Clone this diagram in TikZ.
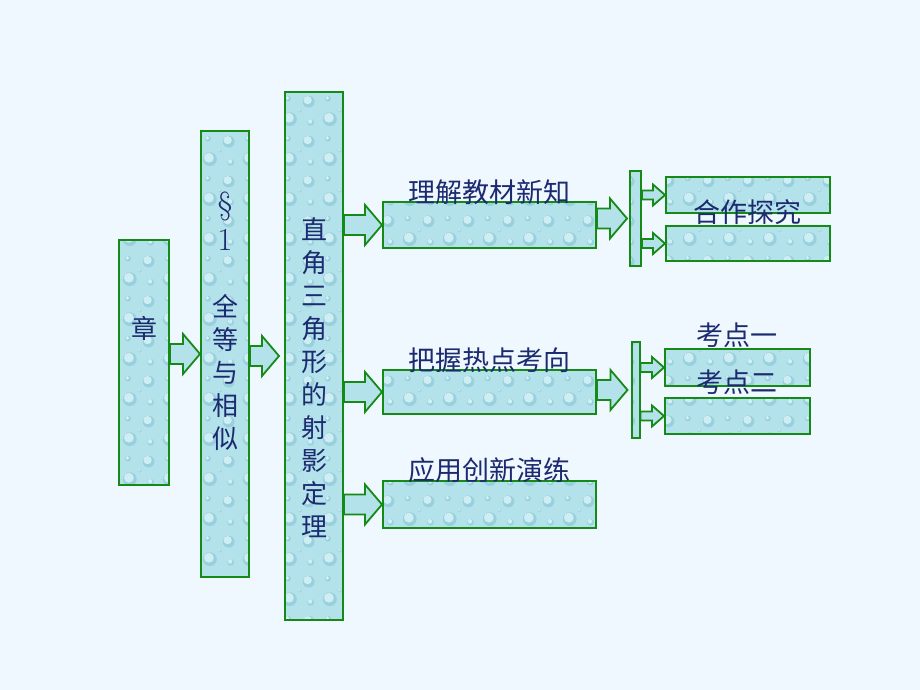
\documentclass[tikz,border=0pt]{standalone}
\usepackage{fontspec}
\newfontfamily\cjk{Noto Sans CJK SC}
\usetikzlibrary{calc,patterns}
\definecolor{bg}{RGB}{240,248,255}
\definecolor{boxfill}{RGB}{180,226,235}
\definecolor{drophi}{RGB}{206,238,244}
\definecolor{droplo}{RGB}{152,208,222}
\definecolor{edgegreen}{RGB}{22,138,22}
\definecolor{ink}{RGB}{28,42,112}
\pgfdeclarepatterninherentlycolored{drops}{\pgfpointorigin}{\pgfpoint{40pt}{40pt}}{\pgfpoint{40pt}{40pt}}{
  \pgfsetfillcolor{droplo}
  \pgfpathcircle{\pgfpoint{10pt}{11pt}}{7pt}\pgfusepath{fill}
  \pgfpathcircle{\pgfpoint{29pt}{29pt}}{6pt}\pgfusepath{fill}
  \pgfpathcircle{\pgfpoint{31pt}{8pt}}{3.5pt}\pgfusepath{fill}
  \pgfpathcircle{\pgfpoint{8pt}{32pt}}{3pt}\pgfusepath{fill}
  \pgfpathcircle{\pgfpoint{20pt}{20pt}}{2pt}\pgfusepath{fill}
  \pgfsetfillcolor{drophi}
  \pgfpathcircle{\pgfpoint{9pt}{12.5pt}}{5pt}\pgfusepath{fill}
  \pgfpathcircle{\pgfpoint{28pt}{30.5pt}}{4.2pt}\pgfusepath{fill}
  \pgfpathcircle{\pgfpoint{30.5pt}{8.8pt}}{2.4pt}\pgfusepath{fill}
  \pgfpathcircle{\pgfpoint{7.5pt}{32.7pt}}{2pt}\pgfusepath{fill}
  \pgfpathcircle{\pgfpoint{19.7pt}{20.5pt}}{1.3pt}\pgfusepath{fill}
}
\newcommand{\bigarrow}[3][0pt]{%
  \draw[arrowbox] let \p1=(#2 |- #3), \p2=(#3) in
    (\x1,\y1+10pt) -- (\x2-#1-17pt,\y1+10pt) -- (\x2-#1-17pt,\y1+20pt) -- (\x2-#1,\y1)
    -- (\x2-#1-17pt,\y1-20pt) -- (\x2-#1-17pt,\y1-10pt) -- (\x1,\y1-10pt) -- cycle;}
\newcommand{\smallarrow}[2]{%
  \draw[arrowbox] let \p1=(#1 |- #2), \p2=(#2) in
    (\x1,\y1+4.5pt) -- (\x2-12pt,\y1+4.5pt) -- (\x2-12pt,\y1+10.5pt) -- (\x2,\y1)
    -- (\x2-12pt,\y1-10.5pt) -- (\x2-12pt,\y1-4.5pt) -- (\x1,\y1-4.5pt) -- cycle;}
\begin{document}
\begin{tikzpicture}[x=1pt,y=1pt]
  \tikzset{
    box/.style={draw=edgegreen, line width=2pt, preaction={fill=boxfill}, preaction={pattern=drops}, inner sep=0pt},
    arrowbox/.style={draw=edgegreen, line width=1.8pt, fill=boxfill},
    word/.style={text=ink, inner sep=0pt, font=\cjk\fontsize{27}{33}\selectfont},
    column/.style={word, align=center, font=\cjk\fontsize{26}{33}\selectfont},
    latin/.style={text=ink, inner sep=0pt, font=\rmfamily\fontsize{32}{33}\selectfont}
  }
  \fill[bg] (0,0) rectangle (920,690);
  \useasboundingbox (0,0) rectangle (920,690);
  \node[box, minimum width=50, minimum height=245](zhang) at (144,327.5) {};
  \node[box, minimum width=48, minimum height=446](sec) at (225,336) {};
  \node[box, minimum width=58, minimum height=528](zhi) at (314,334) {};
  \node[box, minimum width=213, minimum height=46](lijie) at (489.5,465) {};
  \node[box, minimum width=213, minimum height=44](bawo) at (489.5,298) {};
  \node[box, minimum width=213, minimum height=47](yingyong) at (489.5,185.5) {};
  \node[box, minimum width=11, minimum height=95](bar1) at (635.5,471.5) {};
  \node[box, minimum width=8, minimum height=96](bar2) at (635.5,300) {};
  \node[box, minimum width=164, minimum height=36](hezuo1) at (748,495) {};
  \node[box, minimum width=164, minimum height=35](hezuo2) at (748,446.5) {};
  \node[box, minimum width=145, minimum height=37](kaodian1) at (737.5,322.5) {};
  \node[box, minimum width=145, minimum height=36](kaodian2) at (737.5,274) {};
  \bigarrow{zhang.east}{sec.west}
  \bigarrow[5pt]{sec.east}{zhi.west}
  \bigarrow{zhi.east}{lijie.west}
  \bigarrow{zhi.east}{bawo.west}
  \bigarrow{zhi.east}{yingyong.west}
  \bigarrow[2pt]{lijie.east}{bar1.west}
  \bigarrow[3pt]{bawo.east}{bar2.west}
  \smallarrow{bar1.east}{hezuo1.west}
  \smallarrow{bar1.east}{hezuo2.west}
  \smallarrow{bar2.east}{kaodian1.west}
  \smallarrow{bar2.east}{kaodian2.west}
  \node[column](zhangtxt) at (144,362) {章};
  \node[latin](secmark) at (225,483) {\S};
  \node[latin](secnum) at (225,450) {1};
  \node[column](sectxt) at (225,318) {全\\等\\与\\相\\似};
  \node[column](zhitxt) at (314,312.5) {直\\角\\三\\角\\形\\的\\射\\影\\定\\理};
  \node[word](lijietxt) at (489,498) {理解教材新知};
  \node[word](bawotxt) at (489,330) {把握热点考向};
  \node[word](yingyongtxt) at (489,220) {应用创新演练};
  \node[word](hezuotxt) at (747,478) {合作探究};
  \node[word](kaodian1txt) at (737,355) {考点一};
  \node[word](kaodian2txt) at (737,308) {考点二};
\end{tikzpicture}
\end{document}
